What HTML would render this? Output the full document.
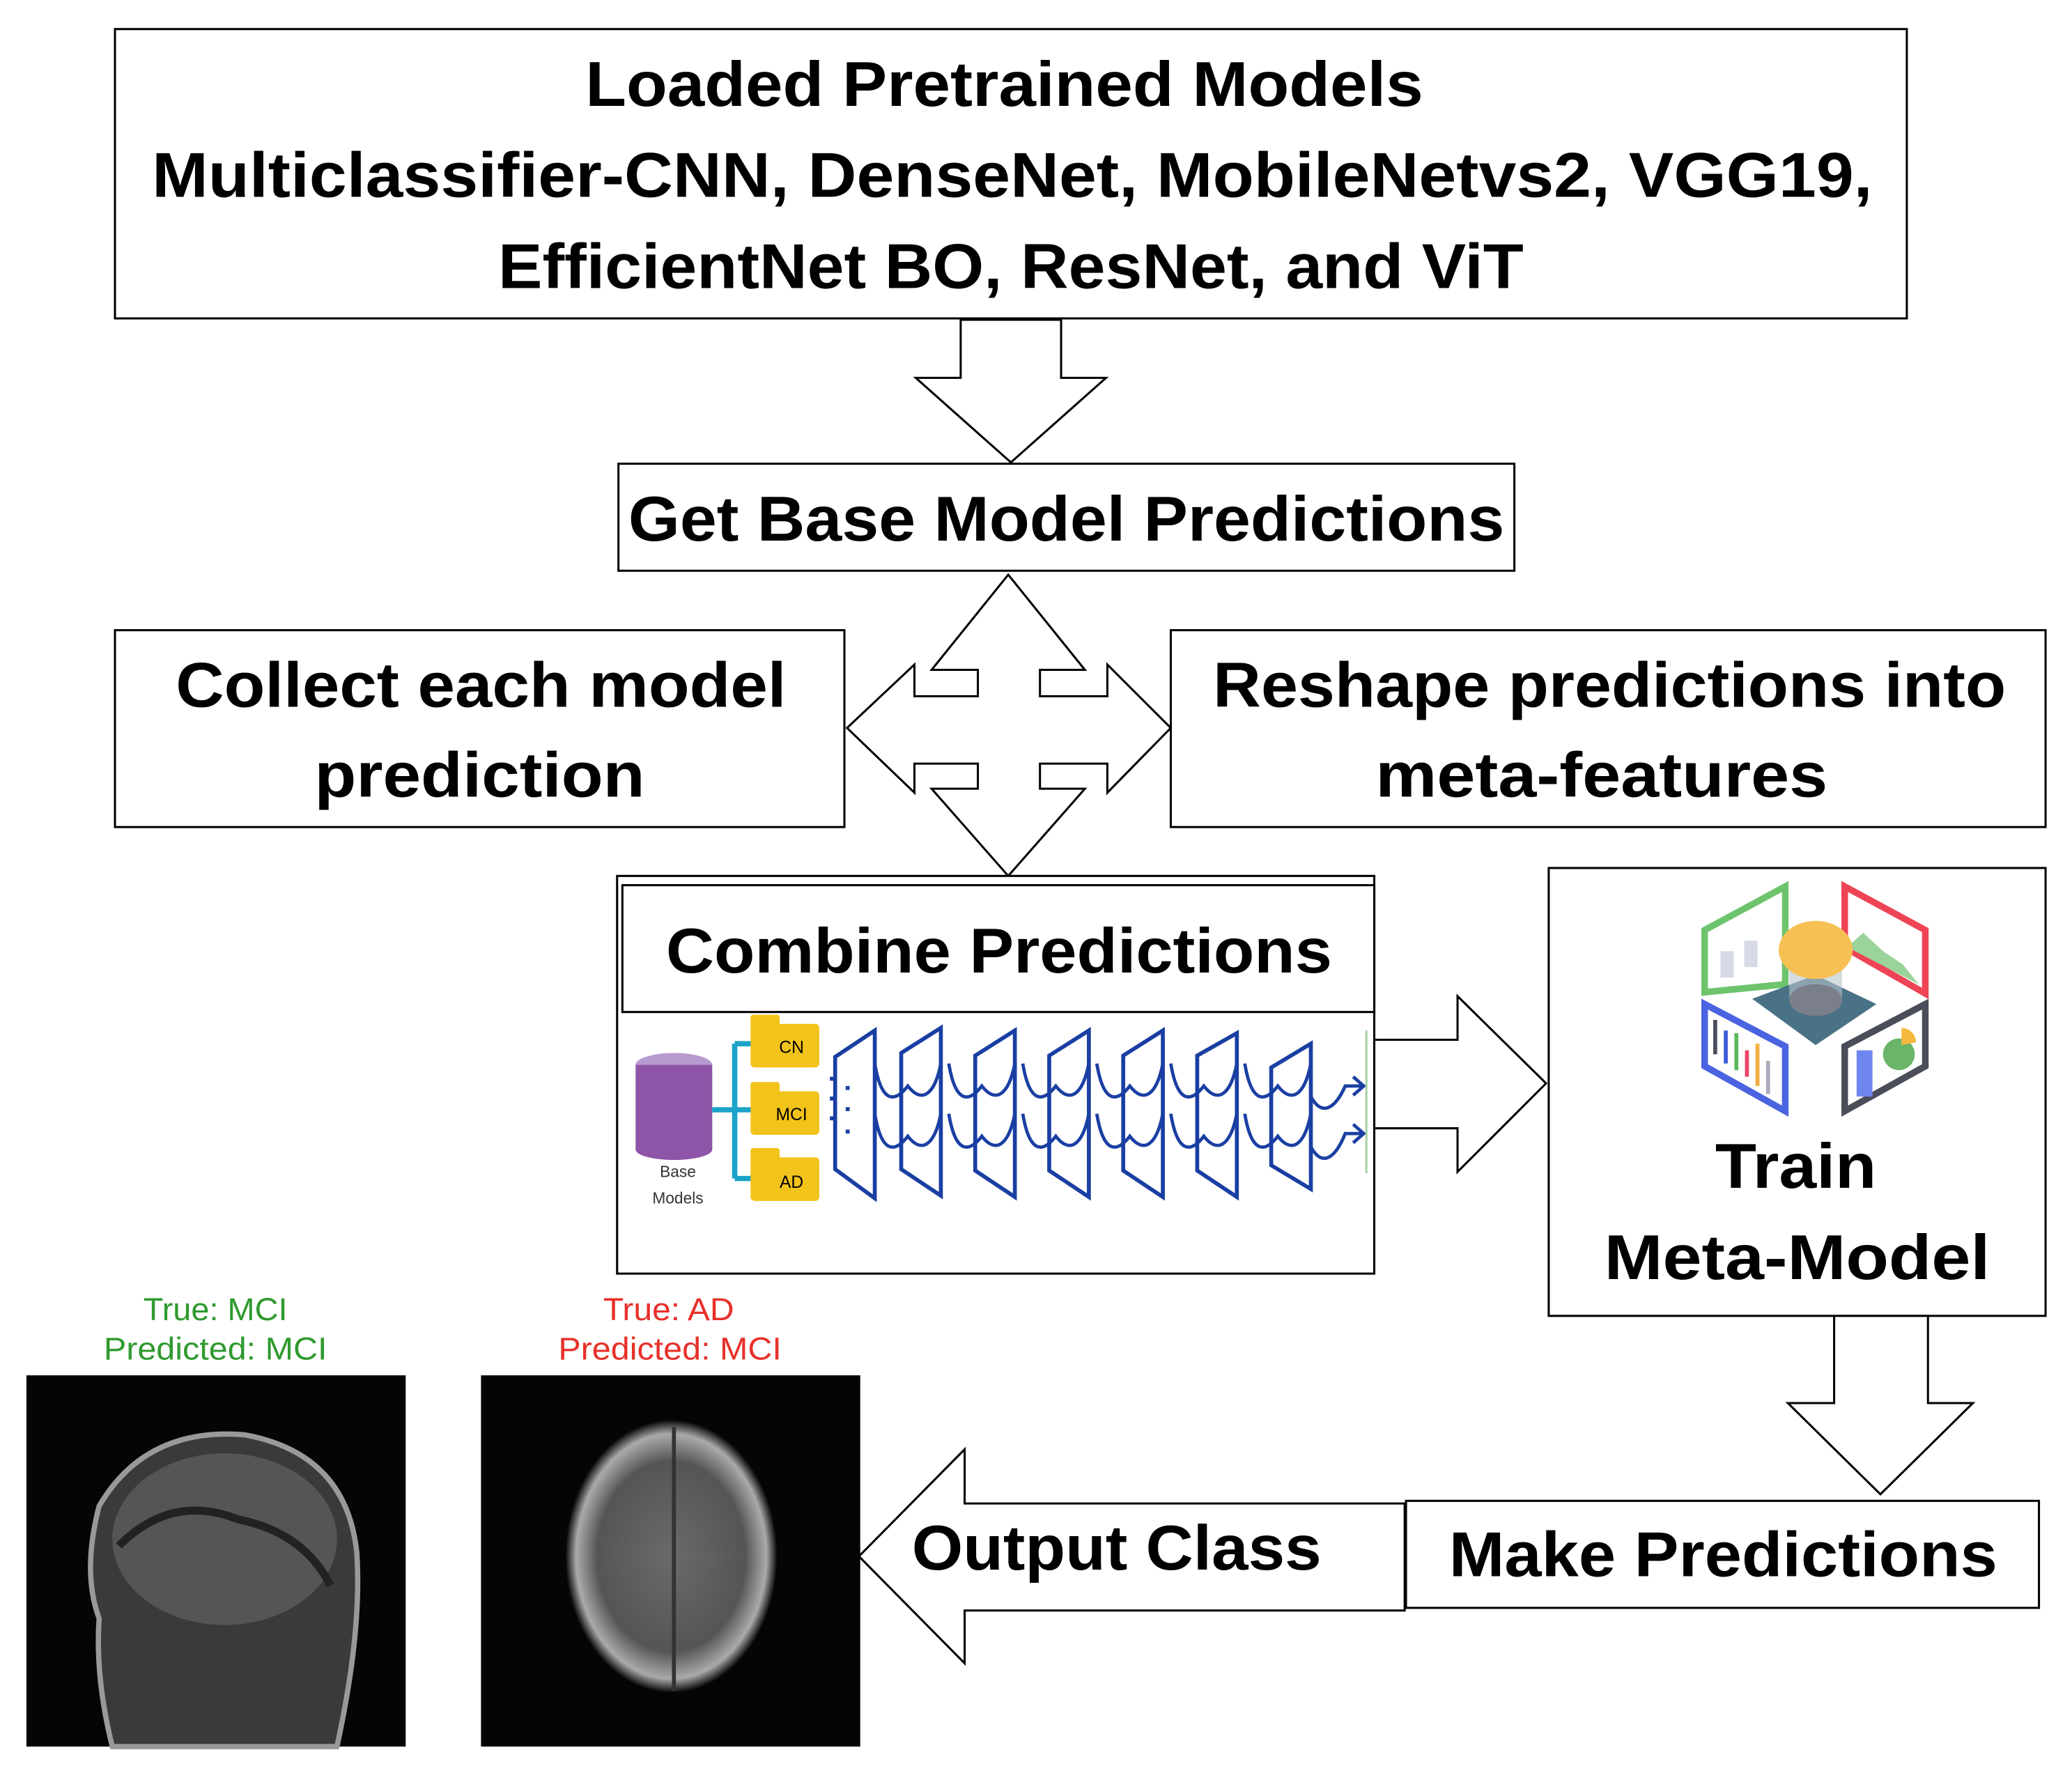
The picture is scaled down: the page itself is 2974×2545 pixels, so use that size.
<!DOCTYPE html>
<html><head><meta charset="utf-8"><style>
html,body{margin:0;padding:0;background:#fff}
svg{display:block}
text{font-family:"Liberation Sans",sans-serif;font-weight:bold}
</style></head><body>
<svg width="2974" height="2545" viewBox="0 0 1568 1342" preserveAspectRatio="none" xmlns="http://www.w3.org/2000/svg">
<defs>
<radialGradient id="b1" cx="0.5" cy="0.5" r="0.5"><stop offset="0" stop-color="#4a4a4a"/><stop offset="0.6" stop-color="#333"/><stop offset="0.85" stop-color="#777"/><stop offset="1" stop-color="#111"/></radialGradient>
<radialGradient id="b2" cx="0.5" cy="0.5" r="0.5"><stop offset="0" stop-color="#6a6a6a"/><stop offset="0.7" stop-color="#555"/><stop offset="0.9" stop-color="#aaa"/><stop offset="1" stop-color="#0a0a0a"/></radialGradient>
</defs>
<g fill="#fff" stroke="#000" stroke-width="1.6">
<rect x="87" y="22" width="1356" height="219"/>
<polygon points="727,242 803,242 803,286 837,286 765,350 693,286 727,286"/>
<rect x="468" y="351" width="678" height="81"/>
<rect x="87" y="477" width="552" height="149"/>
<rect x="886" y="477" width="662" height="149"/>
<polygon points="763,435 821,507 787,507 787,527 838,527 838,503 886,551 838,600 838,578 787,578 787,597 821,597 763,663 705,597 740,597 740,578 692,578 692,600 641,551 692,503 692,527 740,527 740,507 705,507"/>
<rect x="467" y="663" width="573" height="301"/>
<rect x="471" y="670" width="569" height="96"/>
<polygon points="1040,787 1103,787 1103,754 1170,820 1103,887 1103,854 1040,854"/>
<rect x="1172" y="657" width="376" height="339"/>
<polygon points="1388,996 1459,996 1459,1062 1493,1062 1423,1131 1353,1062 1388,1062"/>
<rect x="1064" y="1136" width="479" height="81"/>
<polygon points="1063,1138 730,1138 730,1097 650,1178 730,1259 730,1219 1063,1219"/>
</g>
<g style="fill:#000">
<text x="760" y="64" text-anchor="middle" dominant-baseline="central" font-size="48" textLength="634" lengthAdjust="spacingAndGlyphs">Loaded Pretrained Models</text>
<text x="766" y="133" text-anchor="middle" dominant-baseline="central" font-size="48" textLength="1302" lengthAdjust="spacingAndGlyphs">Multiclassifier-CNN, DenseNet, MobileNetvs2, VGG19,</text>
<text x="765" y="202" text-anchor="middle" dominant-baseline="central" font-size="48" textLength="776" lengthAdjust="spacingAndGlyphs">EfficientNet BO, ResNet, and ViT</text>
<text x="807" y="393" text-anchor="middle" dominant-baseline="central" font-size="48" textLength="663" lengthAdjust="spacingAndGlyphs">Get Base Model Predictions</text>
<text x="364" y="519" text-anchor="middle" dominant-baseline="central" font-size="48" textLength="462" lengthAdjust="spacingAndGlyphs">Collect each model</text>
<text x="363" y="587" text-anchor="middle" dominant-baseline="central" font-size="48" textLength="250" lengthAdjust="spacingAndGlyphs">prediction</text>
<text x="1218" y="519" text-anchor="middle" dominant-baseline="central" font-size="48" textLength="600" lengthAdjust="spacingAndGlyphs">Reshape predictions into</text>
<text x="1212" y="587" text-anchor="middle" dominant-baseline="central" font-size="48" textLength="342" lengthAdjust="spacingAndGlyphs">meta-features</text>
<text x="756" y="720" text-anchor="middle" dominant-baseline="central" font-size="48" textLength="504" lengthAdjust="spacingAndGlyphs">Combine Predictions</text>
<text x="1359" y="883" text-anchor="middle" dominant-baseline="central" font-size="48" textLength="122" lengthAdjust="spacingAndGlyphs">Train</text>
<text x="1360" y="952" text-anchor="middle" dominant-baseline="central" font-size="48" textLength="292" lengthAdjust="spacingAndGlyphs">Meta-Model</text>
<text x="1304" y="1177" text-anchor="middle" dominant-baseline="central" font-size="48" textLength="415" lengthAdjust="spacingAndGlyphs">Make Predictions</text>
<text x="690" y="1172" dominant-baseline="central" font-size="48" textLength="310" lengthAdjust="spacingAndGlyphs">Output Class</text>
</g>
<!-- combine diagram -->
<ellipse cx="510" cy="806" rx="29" ry="9" fill="#b79ad0"/>
<rect x="481" y="806" width="58" height="64" fill="#8e55a8"/>
<ellipse cx="510" cy="870" rx="29" ry="8" fill="#8e55a8"/>
<text x="513" y="891" text-anchor="middle" font-size="12" style="fill:#333;font-weight:normal">Base</text>
<text x="513" y="911" text-anchor="middle" font-size="12" style="fill:#333;font-weight:normal">Models</text>
<path d="M539,840 H556 M556,790 V892 M556,790 H570 M556,892 H570 M556,840 H570" stroke="#1aa3c8" stroke-width="4" fill="none"/>
<g fill="#f2c31a"><rect x="568" y="775" width="52" height="33" rx="3"/><rect x="568" y="768" width="22" height="10" rx="2"/>
<rect x="568" y="826" width="52" height="33" rx="3"/><rect x="568" y="819" width="22" height="10" rx="2"/>
<rect x="568" y="876" width="52" height="33" rx="3"/><rect x="568" y="869" width="22" height="10" rx="2"/></g>
<text x="599" y="797" text-anchor="middle" font-size="13" style="fill:#000;font-weight:normal">CN</text>
<text x="599" y="848" text-anchor="middle" font-size="13" style="fill:#000;font-weight:normal">MCI</text>
<text x="599" y="899" text-anchor="middle" font-size="13" style="fill:#000;font-weight:normal">AD</text>
<g fill="none" stroke="#1a3fa3" stroke-width="3">
<path d="M632,800 L662,780 L662,907 L632,885 Z"/>
<path d="M682,797 L712,778 L712,905 L682,885 Z"/>
<path d="M738,799 L768,780 L768,906 L738,886 Z"/>
<path d="M794,799 L824,780 L824,906 L794,886 Z"/>
<path d="M850,799 L880,780 L880,906 L850,886 Z"/>
<path d="M906,799 L936,782 L936,906 L906,886 Z"/>
<path d="M962,808 L992,790 L992,900 L962,882 Z"/>
<g stroke-width="2.5">
<path d="M662,805 C667,835 677,835 687,822 C697,835 707,830 712,805"/>
<path d="M718,805 C723,835 733,835 743,822 C753,835 763,830 768,805"/>
<path d="M774,805 C779,835 789,835 799,822 C809,835 819,830 824,805"/>
<path d="M830,805 C835,835 845,835 855,822 C865,835 875,830 880,805"/>
<path d="M886,805 C891,835 901,835 911,822 C921,835 931,830 936,805"/>
<path d="M942,805 C947,835 957,835 967,822 C977,835 987,830 992,805"/>
<path d="M992,830 C1000,845 1010,840 1018,822 L1032,822 M1024,815 L1032,822 L1024,829"/>
<path d="M662,843 C667,873 677,873 687,860 C697,873 707,868 712,843"/>
<path d="M718,843 C723,873 733,873 743,860 C753,873 763,868 768,843"/>
<path d="M774,843 C779,873 789,873 799,860 C809,873 819,868 824,843"/>
<path d="M830,843 C835,873 845,873 855,860 C865,873 875,868 880,843"/>
<path d="M886,843 C891,873 901,873 911,860 C921,873 931,868 936,843"/>
<path d="M942,843 C947,873 957,873 967,860 C977,873 987,868 992,843"/>
<path d="M992,868 C1000,883 1010,878 1018,858 L1032,858 M1024,851 L1032,858 L1024,865"/>
</g>
<path d="M1034,780 V888" stroke="#9ccf9c" stroke-width="1.5"/>
</g>
<g fill="#1a3fa3"><rect x="628" y="815" width="5" height="3"/><rect x="628" y="830" width="5" height="3"/><rect x="628" y="845" width="5" height="3"/><rect x="640" y="822" width="3" height="3"/><rect x="640" y="838" width="3" height="3"/><rect x="640" y="855" width="3" height="3"/></g>
<!-- icon -->
<polygon points="1290,704 1351,671 1351,745 1290,751" fill="#fff" stroke="#6dc46d" stroke-width="5"/>
<rect x="1302" y="720" width="10" height="20" fill="#d5dae6"/><rect x="1320" y="712" width="10" height="20" fill="#d5dae6"/>
<polygon points="1396,671 1457,704 1457,752 1396,717" fill="#fff" stroke="#ee4455" stroke-width="5"/>
<polygon points="1400,715 1410,706 1425,720 1440,730 1452,745 1400,718" fill="#9ad49a"/>
<polygon points="1326,756 1374,738 1420,760 1374,791" fill="#4a7286"/>
<rect x="1354" y="725" width="40" height="30" fill="#b8c4cc" opacity="0.6"/>
<ellipse cx="1374" cy="757" rx="20" ry="12" fill="#7a7f8a"/>
<ellipse cx="1374" cy="719" rx="28" ry="22" fill="#f7c055"/>
<polygon points="1290,760 1351,792 1351,841 1290,807" fill="#fff" stroke="#4a63e0" stroke-width="5"/>
<g stroke-width="3"><path d="M1298,772 V798" stroke="#4a4d5a"/><path d="M1306,780 V805" stroke="#3c5ad8"/><path d="M1314,782 V810" stroke="#5cb85c"/><path d="M1322,795 V815" stroke="#ee4466"/><path d="M1330,790 V822" stroke="#f0b040"/><path d="M1338,803 V828" stroke="#aab"/></g>
<polygon points="1396,792 1457,760 1457,807 1396,841" fill="#fff" stroke="#4a4d5a" stroke-width="5"/>
<rect x="1405" y="795" width="12" height="35" fill="#6f86ee"/>
<circle cx="1437" cy="798" r="12" fill="#6ab56a"/>
<path d="M1439,778 a11,11 0 0 1 11,11 l-11,2 z" fill="#f5b940"/>
<!-- labels -->
<text x="163" y="991" text-anchor="middle" dominant-baseline="central" font-size="24" style="fill:#2e9a2e;font-weight:normal" textLength="109" lengthAdjust="spacingAndGlyphs">True: MCI</text>
<text x="163" y="1021" text-anchor="middle" dominant-baseline="central" font-size="24" style="fill:#2e9a2e;font-weight:normal" textLength="169" lengthAdjust="spacingAndGlyphs">Predicted: MCI</text>
<text x="506" y="991" text-anchor="middle" dominant-baseline="central" font-size="24" style="fill:#e8302a;font-weight:normal" textLength="99" lengthAdjust="spacingAndGlyphs">True: AD</text>
<text x="507" y="1021" text-anchor="middle" dominant-baseline="central" font-size="24" style="fill:#e8302a;font-weight:normal" textLength="169" lengthAdjust="spacingAndGlyphs">Predicted: MCI</text>
<!-- brain images -->
<rect x="20" y="1041" width="287" height="281" fill="#050505"/>
<path d="M75,1140 Q110,1080 185,1086 Q262,1100 270,1175 Q274,1235 255,1322 L85,1322 Q72,1270 75,1225 Q62,1190 75,1140 Z" fill="#3a3a3a" stroke="#999" stroke-width="4"/>
<ellipse cx="170" cy="1165" rx="85" ry="65" fill="#555"/>
<path d="M90,1170 Q130,1130 180,1150 Q230,1160 250,1200" stroke="#222" stroke-width="6" fill="none"/>
<rect x="364" y="1041" width="287" height="281" fill="#050505"/>
<ellipse cx="508" cy="1178" rx="80" ry="103" fill="url(#b2)"/>
<path d="M510,1080 V1280" stroke="#333" stroke-width="3"/>
</svg>
</body></html>
